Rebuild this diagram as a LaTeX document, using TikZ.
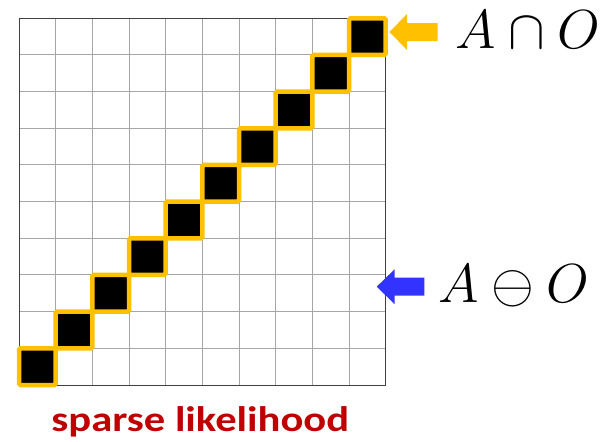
\documentclass[tikz,border=0pt]{standalone}
\usepackage{fontspec}
\newfontfamily\labelfont{Carlito}
\definecolor{hlorange}{HTML}{FFC000}
\definecolor{ptrblue}{HTML}{3333FF}
\definecolor{titlered}{HTML}{C00000}
\definecolor{gridgray}{HTML}{A6A6A6}
\tikzset{
  gridline/.style={draw=gridgray, line width=1pt},
  gridframe/.style={draw=black!75, line width=1pt},
  hitcell/.style={fill=black, draw=hlorange, line width=4.5pt, rounded corners=1.5pt},
  mathlabel/.style={anchor=base west, inner sep=0pt, font=\fontsize{24.88}{30}\selectfont},
  caption/.style={anchor=base, inner sep=0pt, text=titlered, font=\labelfont\bfseries\fontsize{35.5}{40}\selectfont}
}
% large math labels, scaled up from the largest design size
\newcommand\bigmath[1]{\scalebox{2.21}{$#1$}}
\begin{document}
\begin{tikzpicture}[x=1pt, y=-1pt]
  \useasboundingbox (0,0) rectangle (614,442);
  \def\gx{19}\def\gy{18.3}\def\cs{36.67}
  % 10 x 10 grid
  \foreach \i in {1,...,9}{
    \draw[gridline] ({\gx+\i*\cs},\gy) -- ({\gx+\i*\cs},{\gy+10*\cs});
    \draw[gridline] (\gx,{\gy+\i*\cs}) -- ({\gx+10*\cs},{\gy+\i*\cs});
  }
  \draw[gridframe] (\gx,\gy) rectangle ({\gx+10*\cs},{\gy+10*\cs});
  % highlighted diagonal cells
  \foreach \k in {0,...,9}{
    \path[hitcell] ({\gx+\k*\cs},{\gy+(9-\k)*\cs}) rectangle ({\gx+(\k+1)*\cs},{\gy+(10-\k)*\cs});
  }
  % pointer arrows
  \coordinate (tipA) at (389.5,32);
  \coordinate (tipB) at (376.7,286.7);
  \fill[hlorange] (tipA) -- ++(17.5,-18) -- ++(0,9) -- ++(30.5,0) -- ++(0,18) -- ++(-30.5,0) -- ++(0,9) -- cycle;
  \fill[ptrblue] (tipB) -- ++(18,-17.5) -- ++(0,8.5) -- ++(29.6,0) -- ++(0,18) -- ++(-29.6,0) -- ++(0,8.5) -- cycle;
  % labels
  \node[mathlabel] (capAO) at (455.5,48.3) {\bigmath{A\cap O}};
  \node[mathlabel] (ominusAO) at (438.5,302.7) {\bigmath{A\ominus O}};
  \node[caption] (title) at (200.3,431.7) {\scalebox{1.2}[1]{sparse likelihood}};
\end{tikzpicture}
\end{document}
